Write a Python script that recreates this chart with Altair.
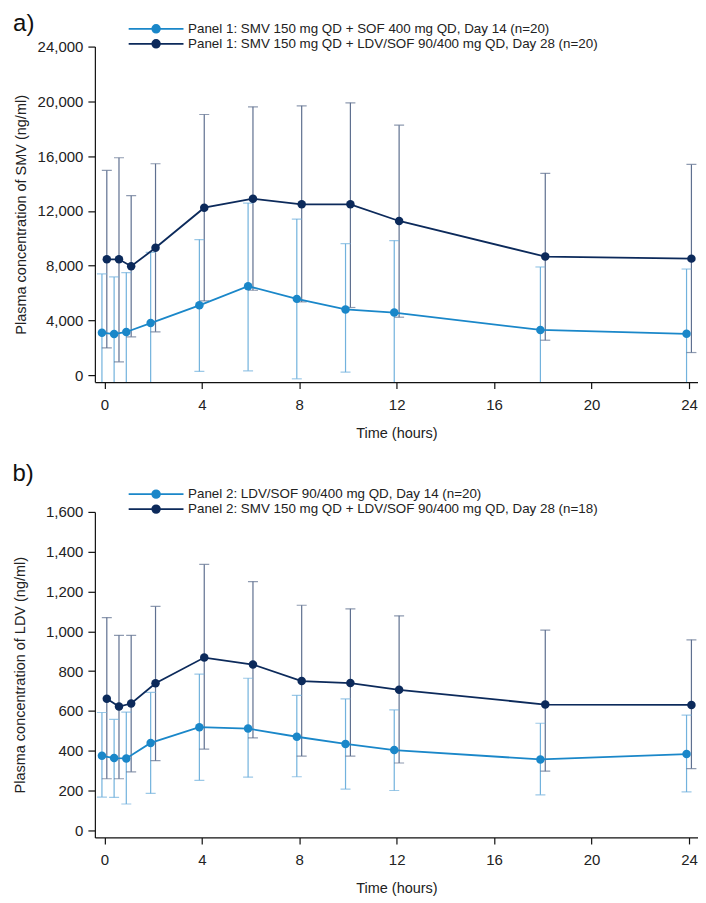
import altair as alt
import pandas as pd

times = [0, 0.5, 1, 2, 4, 6, 8, 10, 12, 18, 24]

# ---- Panel a: SMV ----
a_series = [
    "Panel 1: SMV 150 mg QD + SOF 400 mg QD, Day 14 (n=20)",
    "Panel 1: SMV 150 mg QD + LDV/SOF 90/400 mg QD, Day 28 (n=20)",
]
a1_mean = [3100, 3000, 3150, 3800, 5100, 6500, 5570, 4800, 4570, 3300, 3020]
a1_lo = [-1200, -1170, -1180, -1370, 270, 315, -270, 220, -690, -1300, -1715]
a1_hi = [7390, 7170, 7490, 8970, 9900, 12570, 11400, 9600, 9830, 7900, 7750]
a2_mean = [8460, 8460, 7950, 9300, 12230, 12890, 12475, 12475, 11260, 8660, 8510]
a2_lo = [1990, 970, 2795, 3160, 5420, 6200, 5350, 4940, 4230, 2550, 1650]
a2_hi = [14950, 15880, 13110, 15440, 19040, 19600, 19670, 19890, 18260, 14740, 15390]

# ---- Panel b: LDV ----
b_series = [
    "Panel 2: LDV/SOF 90/400 mg QD, Day 14 (n=20)",
    "Panel 2: SMV 150 mg QD + LDV/SOF 90/400 mg QD, Day 28 (n=18)",
]
b1_mean = [374, 363, 361, 439, 518, 511, 470, 434, 403, 356, 383]
b1_lo = [167, 165, 132, 185, 251, 267, 269, 207, 200, 178, 193]
b1_hi = [592, 557, 594, 693, 785, 764, 678, 660, 605, 538, 579]
b2_mean = [661, 622, 637, 739, 868, 833, 750, 740, 706, 632, 630]
b2_lo = [259, 259, 294, 350, 408, 464, 373, 373, 338, 297, 310]
b2_hi = [1069, 980, 980, 1125, 1336, 1250, 1131, 1113, 1078, 1006, 957]

x_ticks = [0, 4, 8, 12, 16, 20, 24]
a_ticks = [0, 4000, 8000, 12000, 16000, 20000, 24000]
b_ticks = [0, 200, 400, 600, 800, 1000, 1200, 1400, 1600]

COLORS = ["#1a87c9", "#0c2a5b"]
ERR_COLORS = ["#72b2dd", "#5f7090"]
FONT = "Liberation Sans"
DODGE = 0.1  # hours, visual side-by-side offset between the two series

LEGEND_PATH = "M-6.1,0H6.1M0.85,0A0.85,0.85,0,1,1,-0.85,0A0.85,0.85,0,1,1,0.85,0Z"


def make_df(series, means, los, his):
    rows = []
    for k, (s, m, lo, hi) in enumerate(zip(series, means, los, his)):
        for t, mv, l, h in zip(times, m, lo, hi):
            rows.append({"series": s, "k": k, "time": t, "mean": mv, "lo": l, "hi": h})
    return pd.DataFrame(rows)


def panel(df, series, ydomain, yticks, ytitle, label, height, title_pad, label_offset):
    base = alt.Chart(df).transform_calculate(
        tx=f"datum.time + (datum.k - 0.5) * {2 * DODGE}"
    )
    xenc = alt.X(
        "tx:Q",
        scale=alt.Scale(domain=[-0.39, 24.37], nice=False, zero=False),
        axis=alt.Axis(values=x_ticks, title="Time (hours)", tickSize=6.5,
                      labelPadding=9, titlePadding=14),
    )
    yscale = alt.Scale(domain=ydomain, nice=False, zero=False)
    yaxis = alt.Axis(values=yticks, format=",d", title=ytitle, tickSize=7,
                     labelPadding=5, titlePadding=title_pad)
    col_scale = alt.Scale(domain=series, range=COLORS)
    err_scale = alt.Scale(domain=[0, 1], range=ERR_COLORS)
    legend = alt.Legend(
        orient="none", legendX=54.6, legendY=-24.5, title=None,
        symbolType=LEGEND_PATH, symbolSize=81, symbolStrokeWidth=1.8,
        labelFont=FONT, labelFontSize=13.4, labelColor="#222",
        labelOffset=25.3, rowPadding=-2, labelLimit=600,
    )
    rules = base.mark_rule(strokeWidth=1.2, clip=True).encode(
        x=xenc,
        y=alt.Y("lo:Q", scale=yscale, axis=yaxis),
        y2="hi:Q",
        stroke=alt.Stroke("k:N", scale=err_scale, legend=None),
    )
    cap_lo = base.mark_tick(size=10, thickness=1.2, clip=True, orient="horizontal").encode(
        x=xenc,
        y=alt.Y("lo:Q", scale=yscale, axis=yaxis),
        fill=alt.Fill("k:N", scale=err_scale, legend=None),
    )
    cap_hi = base.mark_tick(size=10, thickness=1.2, clip=True, orient="horizontal").encode(
        x=xenc,
        y=alt.Y("hi:Q", scale=yscale, axis=yaxis),
        fill=alt.Fill("k:N", scale=err_scale, legend=None),
    )
    line = base.mark_line(strokeWidth=1.8).encode(
        x=xenc,
        y=alt.Y("mean:Q", scale=yscale, axis=yaxis),
        color=alt.Color("series:N", scale=col_scale, legend=legend),
    )
    pts = base.mark_circle(size=72, opacity=1).encode(
        x=xenc,
        y=alt.Y("mean:Q", scale=yscale, axis=yaxis),
        color=alt.Color("series:N", scale=col_scale, legend=legend),
    )
    return alt.layer(rules, cap_lo, cap_hi, line, pts).properties(
        width=604,
        height=height,
        title=alt.TitleParams(label, anchor="start", frame="bounds", fontSize=24,
                              fontWeight="normal", font=FONT, color="#111",
                              offset=label_offset),
    )


df_a = make_df(a_series, [a1_mean, a2_mean], [a1_lo, a2_lo], [a1_hi, a2_hi])
df_b = make_df(b_series, [b1_mean, b2_mean], [b1_lo, b2_lo], [b1_hi, b2_hi])

pa = panel(df_a, a_series, [-510, 24000], a_ticks,
           "Plasma concentration of SMV (ng/ml)", "a)", 336, 9, -13.5)
pb = panel(df_b, b_series, [-36, 1600], b_ticks,
           "Plasma concentration of LDV (ng/ml)", "b)", 326, 18, 1)

chart = (
    alt.vconcat(pa, pb, spacing=22)
    .resolve_scale(color="independent", stroke="independent", fill="independent",
                   y="independent", x="independent")
    .resolve_legend(color="independent")
    .properties(padding={"left": 4, "top": 3, "right": 0, "bottom": 0})
    .configure_view(stroke=None)
    .configure_axis(
        grid=False, domainColor="#111", tickColor="#111", domainWidth=1.2,
        tickWidth=1.2, labelFont=FONT, labelFontSize=15, labelColor="#222",
        titleFont=FONT, titleFontSize=14.5, titleFontWeight="normal", titleColor="#222",
    )
)

chart.save("out.html", embed_options={"renderer": "svg", "actions": False})
